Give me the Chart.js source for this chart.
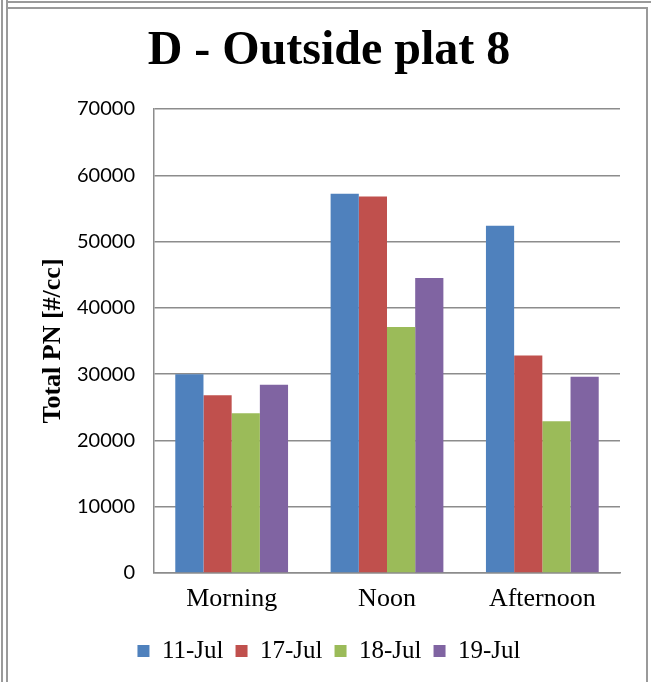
<!DOCTYPE html>
<html>
<head>
<meta charset="utf-8">
<script src="https://cdn.jsdelivr.net/npm/chart.js@4.4.0/dist/chart.umd.min.js"></script>
<style>
    body { margin: 0; background: #fff; }
    #wrap { position: relative; width: 651px; height: 682px; overflow: hidden; }
    #wrap canvas { position: absolute; left: 0; top: 0; }
    .ln { position: absolute; background: #9a9a9a; }
</style>
</head>
<body>
<div id="wrap">
    <canvas id="pnChart" width="651" height="682"></canvas>
    <!-- cornice doppia grigia -->
    <div class="ln" style="left:1px;top:0;width:2px;height:682px"></div>
    <div class="ln" style="left:6px;top:0;width:2px;height:682px"></div>
    <div class="ln" style="left:8px;top:1px;width:643px;height:2px"></div>
    <div class="ln" style="left:8px;top:7px;width:640px;height:2px"></div>
    <div class="ln" style="left:646px;top:7px;width:2px;height:675px"></div>
</div>
<script>
// Dati
const periods = ['Morning', 'Noon', 'Afternoon'];
const dates = ['11-Jul', '17-Jul', '18-Jul', '19-Jul'];
const jul11 = [30000, 57200, 52400];
const jul17 = [26800, 56800, 32800];
const jul18 = [24100, 37100, 22900];
const jul19 = [28400, 44500, 29600];
const yMin = 0;
const yMax = 70000;
const yStep = 10000;

const colors = ['#4F81BD', '#C0504D', '#9BBB59', '#8064A2'];
const seriesValues = [jul11, jul17, jul18, jul19];

const serif = "'Liberation Serif', 'Times New Roman', serif";
const sans = "Lato, 'Noto Sans', sans-serif";

document.addEventListener('DOMContentLoaded', () => {
    const ctx = document.getElementById('pnChart').getContext('2d');

    new Chart(ctx, {
        type: 'bar',
        data: {
            labels: periods,
            datasets: dates.map((d, i) => ({
                label: d,
                data: seriesValues[i],
                backgroundColor: colors[i],
                categoryPercentage: 0.726,
                barPercentage: 1.0
            }))
        },
        options: {
            responsive: false,
            animation: false,
            layout: {
                padding: { left: 38, right: 31, top: 0, bottom: 8.5 }
            },
            plugins: {
                title: {
                    display: true,
                    text: 'D - Outside plat 8',
                    color: '#000',
                    font: { family: serif, size: 48, weight: 'bold' },
                    padding: { top: 23, bottom: 28.4 }
                },
                legend: {
                    position: 'bottom',
                    labels: {
                        boxWidth: 12,
                        boxHeight: 12,
                        padding: 12,
                        color: '#000',
                        font: { family: serif, size: 25 }
                    }
                },
                tooltip: { enabled: false }
            },
            scales: {
                x: {
                    grid: { display: false, drawTicks: false },
                    border: { display: true, color: '#8c8c8c', width: 1.5 },
                    ticks: {
                        color: '#000',
                        padding: 11,
                        font: { family: serif, size: 26 }
                    },
                    afterFit: (scale) => { scale.height = 53.5; }
                },
                y: {
                    min: yMin,
                    max: yMax,
                    grid: { color: '#8c8c8c', lineWidth: 1.5, drawTicks: false },
                    border: { display: true, color: '#8c8c8c', width: 1.5 },
                    ticks: {
                        stepSize: yStep,
                        color: '#000',
                        padding: 19,
                        font: { family: sans, size: 20 },
                        callback: (v) => String(v)
                    },
                    title: {
                        display: true,
                        text: 'Total PN [#/cc]',
                        color: '#000',
                        font: { family: serif, size: 26, weight: 'bold' },
                        padding: { top: 0, bottom: 0 }
                    },
                    afterFit: (scale) => { scale.width = 116; }
                }
            }
        }
    });
});
</script>
</body>
</html>
